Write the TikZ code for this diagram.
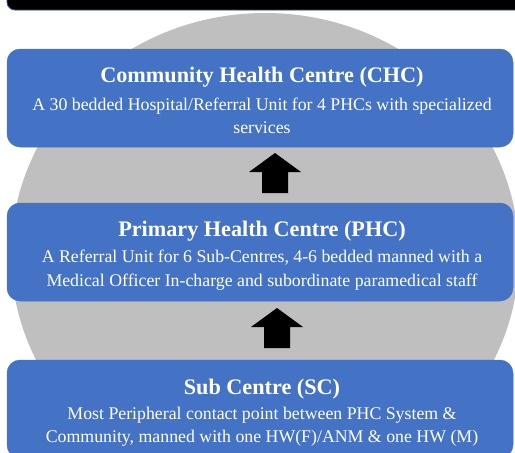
\documentclass[tikz,border=0pt]{standalone}
\usepackage{fontspec}
\setmainfont{Liberation Serif}
\newfontfamily\tierfont{Liberation Serif}
\definecolor{tierblue}{HTML}{4472C4}
\definecolor{bggray}{HTML}{BFBFBF}
\definecolor{bandedge}{HTML}{2F528F}
\begin{document}
\begin{tikzpicture}[x=1pt,y=-1pt,
  tier/.style={fill=tierblue, draw=tierblue, line width=0.5pt, rounded corners=13pt,
               minimum width=506pt, minimum height=98pt, inner sep=0pt},
  tiertitle/.style={text=white, font=\tierfont\bfseries\fontsize{22.2}{26}\selectfont, inner sep=0pt},
  tierbody/.style={text=white, font=\tierfont\fontsize{17.8}{23.5}\selectfont, align=center, inner sep=0pt},
  uparrow/.pic={\fill[black] (0,-20) -- (26,-1) -- (13,-1) -- (13,20) -- (-13,20)
                 -- (-13,-1) -- (-26,-1) -- cycle;}]
\useasboundingbox (0,0) rectangle (515,453);
\clip (0,0) rectangle (515,453);

% backdrop disc
\fill[bggray] (265,255) ellipse [x radius=254, y radius=242];

% heading band running off the top edge
\draw[fill=black, draw=bandedge, line width=0.8pt, rounded corners=8pt] (7,-40) rectangle (560,10);

% the three tiers
\node[tier] (chc) at (260,98) {};
\node[tier] (phc) at (260,252) {};
\node[tier] (sc)  at (260,409) {};

\node[tiertitle] (chct) at (262,77.5) {Community Health Centre (CHC)};
\node[tierbody]  (chcb) at (262,116) {A 30 bedded Hospital/Referral Unit for 4 PHCs with specialized\\services};

\node[tiertitle] (phct) at (262,231.5) {Primary Health Centre (PHC)};
\node[tierbody]  (phcb) at (262,270) {A Referral Unit for 6 Sub-Centres, 4-6 bedded manned with a\\Medical Officer In-charge and subordinate paramedical staff};

\node[tiertitle] (sct) at (262,389.5) {Sub Centre (SC)};
\node[tierbody]  (scb) at (262,426.5) {Most Peripheral contact point between PHC System \&\\Community, manned with one HW(F)/ANM \& one HW (M)};

% upward block arrows between tiers
\pic at (275,173) {uparrow};
\pic at (277,328) {uparrow};
\end{tikzpicture}
\end{document}
